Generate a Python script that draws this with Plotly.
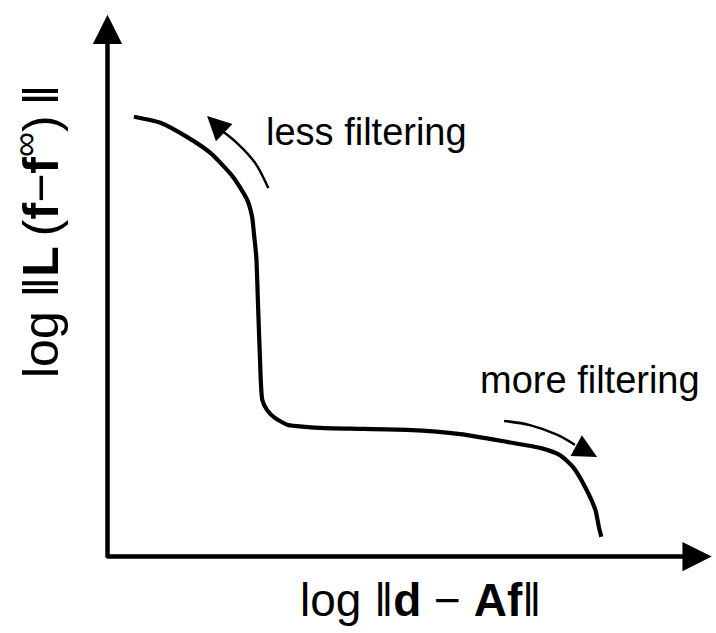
import plotly.graph_objects as go

# L-curve: log residual norm (x) vs log regularised solution norm (y)
curve_x = [0.44, 0.88, 1.33, 1.71, 2.09, 2.33, 2.41, 2.44, 2.48, 2.51, 2.54, 2.58,
           2.66, 2.79, 3.01, 3.29, 3.63, 4.04, 4.99, 5.88, 6.66, 7.21, 7.54, 7.76,
           7.96, 8.13, 8.19, 8.23]
curve_y = [7.33, 7.23, 6.99, 6.73, 6.33, 5.94, 5.66, 5.39, 4.99, 4.16, 3.33, 2.61,
           2.44, 2.31, 2.19, 2.16, 2.14, 2.13, 2.11, 2.04, 1.91, 1.81, 1.69, 1.49,
           1.16, 0.78, 0.49, 0.33]

# curved guide arrows beside the curve (shaft points, last one is the tip)
less_x = [2.68, 2.46, 2.16, 1.93, 1.66]
less_y = [6.14, 6.56, 6.89, 7.08, 7.34]
more_x = [6.61, 7.04, 7.49, 7.79, 8.16]
more_y = [2.26, 2.19, 2.03, 1.86, 1.66]

x_label = "log \u2016<b>d</b> \u2212 <b>Af</b>\u2016"
y_label = "log \u2016<b>L</b>\u2009(<b>f</b>\u2212<b>f</b><sup>\u221e</sup>)\u2009\u2016"
less_text = "less filtering"
more_text = "more filtering"

W, H = 716, 633
FONT = "Liberation Sans, Arial, sans-serif"

fig = go.Figure()

fig.add_trace(go.Scatter(x=curve_x, y=curve_y, mode="lines",
                         line=dict(color="black", width=4.2, shape="spline", smoothing=0.6),
                         hoverinfo="skip"))
fig.add_trace(go.Scatter(x=less_x[:-1], y=less_y[:-1], mode="lines",
                         line=dict(color="black", width=2.5, shape="spline"),
                         hoverinfo="skip"))
fig.add_trace(go.Scatter(x=more_x[:-1], y=more_y[:-1], mode="lines",
                         line=dict(color="black", width=2.5, shape="spline"),
                         hoverinfo="skip"))

def arrow(x0, y0, x1, y1, width, size):
    return dict(x=x1, y=y1, ax=x0, ay=y0, xref="x", yref="y", axref="x", ayref="y",
                text="", showarrow=True, arrowhead=2, arrowwidth=width,
                arrowsize=size, arrowcolor="black", standoff=0)

annotations = [
    # axes with arrows
    arrow(0, -0.04, 0, 9.03, 4.5, 1.3),
    arrow(-0.04, 0, 10.07, 0, 4.5, 1.3),
    # guide arrowheads
    arrow(less_x[-2], less_y[-2], less_x[-1], less_y[-1], 2.5, 1.9),
    arrow(more_x[-2], more_y[-2], more_x[-1], more_y[-1], 2.5, 1.9),
    # texts
    dict(x=366.5 / W, y=1 - 132 / H, xref="paper", yref="paper", text=less_text,
         showarrow=False, xanchor="center", yanchor="middle",
         font=dict(family=FONT, size=38, color="black")),
    dict(x=589.5 / W, y=1 - 380 / H, xref="paper", yref="paper", text=more_text,
         showarrow=False, xanchor="center", yanchor="middle",
         font=dict(family=FONT, size=38, color="black")),
    dict(x=420 / W, y=1 - 600 / H, xref="paper", yref="paper", text=x_label,
         showarrow=False, xanchor="center", yanchor="middle",
         font=dict(family=FONT, size=46, color="black")),
    dict(x=37 / W, y=1 - 232 / H, xref="paper", yref="paper", text=y_label,
         showarrow=False, xanchor="center", yanchor="middle", textangle=-90,
         font=dict(family=FONT, size=50, color="black")),
]

px_per_unit = 60.0
ox, oy = 107.5, 556.5
fig.update_layout(
    width=W, height=H,
    margin=dict(l=0, r=0, t=0, b=0),
    paper_bgcolor="white", plot_bgcolor="white",
    showlegend=False,
    xaxis=dict(range=[-ox / px_per_unit, (W - ox) / px_per_unit], visible=False, fixedrange=True),
    yaxis=dict(range=[-(H - oy) / px_per_unit, oy / px_per_unit], visible=False, fixedrange=True),
    annotations=annotations,
)

fig.write_html("out.html")
